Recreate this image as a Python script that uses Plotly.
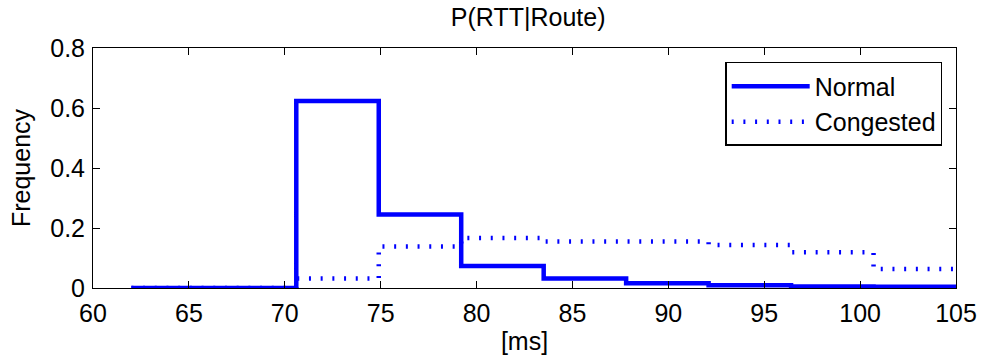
import plotly.graph_objects as go

# Bin edges (ms) and per-bin frequencies
bin_edges = [62.0, 66.3, 70.6, 74.9, 79.2, 83.5, 87.8, 92.1, 96.4, 100.7, 105.0]
normal = [0.0, 0.0, 0.623, 0.245, 0.073, 0.032, 0.016, 0.009, 0.005, 0.004]
congested = [0.0, 0.0, 0.032, 0.138, 0.167, 0.155, 0.155, 0.143, 0.119, 0.063]

x_ticks = [60, 65, 70, 75, 80, 85, 90, 95, 100, 105]
y_ticks = [0, 0.2, 0.4, 0.6, 0.8]
y_tick_text = ["0", "0.2", "0.4", "0.6", "0.8"]

FONT = "Liberation Sans, Arial, Helvetica, sans-serif"
FS = 25

fig = go.Figure()
fig.add_trace(go.Scatter(
    x=bin_edges, y=normal + [normal[-1]], mode="lines", line_shape="hv",
    name="Normal", line=dict(color="#0000ff", width=4.5)))
fig.add_trace(go.Scatter(
    x=bin_edges, y=congested + [congested[-1]], mode="lines", line_shape="hv",
    name="Congested", line=dict(color="#0000ff", width=4.5, dash="2px,9.7px")))

axis_common = dict(showline=True, linecolor="black", linewidth=1, mirror="ticks",
                   ticks="inside", ticklen=7, tickcolor="black", tickwidth=1,
                   showgrid=False, zeroline=False,
                   tickfont=dict(family=FONT, size=FS, color="black"))

fig.update_layout(
    width=989, height=363,
    margin=dict(l=93, r=26, t=48, b=75),
    paper_bgcolor="white", plot_bgcolor="white",
    font=dict(family=FONT, size=FS, color="black"),
    title=dict(text="P(RTT|Route)", x=0.534, xanchor="center", y=0.952, yanchor="middle",
               font=dict(family=FONT, size=FS, color="black")),
    xaxis=dict(range=[60, 105], tickvals=x_ticks, ticklabelstandoff=3,
               title=dict(text="[ms]", font=dict(family=FONT, size=FS), standoff=6),
               **axis_common),
    yaxis=dict(range=[0, 0.8], tickvals=y_ticks, ticktext=y_tick_text, ticklabelstandoff=2,
               title=dict(text="Frequency", font=dict(family=FONT, size=FS), standoff=12),
               **axis_common),
    legend=dict(x=0.984, xanchor="right", y=0.942, yanchor="top",
                bordercolor="black", borderwidth=1.5, bgcolor="white",
                font=dict(family=FONT, size=FS, color="black"),
                itemwidth=78, tracegroupgap=0),
    showlegend=True,
)

fig.write_html("out.html")
